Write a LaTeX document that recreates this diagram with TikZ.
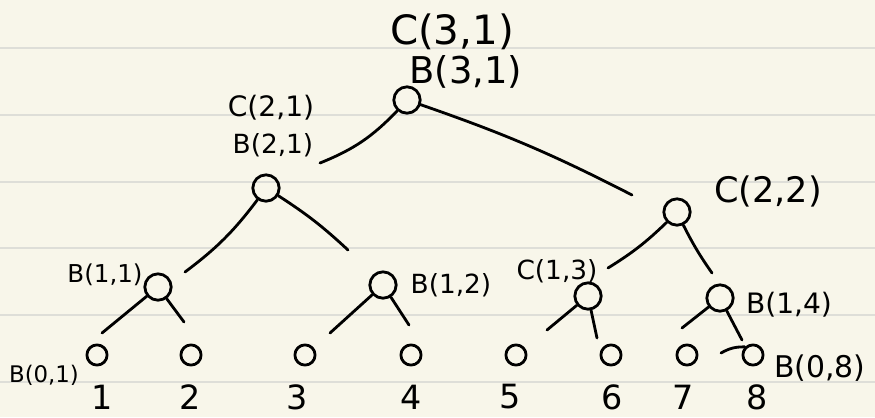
\documentclass[tikz,border=0pt]{standalone}
\usepackage{fontspec}
\setmainfont{DejaVu Sans}
\usetikzlibrary{shapes.geometric}

\definecolor{paper}{RGB}{248,246,234}
\definecolor{rule}{RGB}{222,222,216}

\tikzset{
  pen/.style={line width=1.6pt, line cap=round, line join=round, black},
  tnode/.style={pen, draw, circle, minimum size=15pt, inner sep=0pt},
  leaf/.style={pen, draw, ellipse, minimum width=11.5pt, minimum height=11.5pt, inner sep=0pt},
  lbl/.style={inner sep=0pt, font=\fontsize{#1}{#1}\selectfont},
  num/.style={inner sep=0pt, font=\fontsize{19}{19}\selectfont}
}

\begin{document}
\begin{tikzpicture}[x=0.02cm, y=-0.02cm]
    \useasboundingbox (0,0) rectangle (875,417);
    \fill[paper] (0,0) rectangle (875,417);

    % notebook rules
    \foreach \y in {48,115,182,248,315,382} {
        \draw[rule, line width=1.1pt] (0,\y) -- (875,\y);
    }

    % tree nodes
    \node[tnode] (r)   at (407,100) {};
    \node[tnode] (n21) at (266,188) {};
    \node[tnode] (n22) at (677,212) {};
    \node[tnode] (n11) at (158,287) {};
    \node[tnode] (n12) at (383,285) {};
    \node[tnode] (n13) at (588,296) {};
    \node[tnode] (n14) at (720,298) {};

    % loose ends of the branches
    \foreach \n/\x/\y in {rl/320/163, rr/632/195, al/185/272, ar/348/250,
                          bl/608/268, br/712/273, cl/102/333, cr/184/322,
                          dl/330/333, dr/409/325, el/547/330, er/597/338,
                          fl/682/328, fr/742/340} {
        \coordinate (\n) at (\x,\y);
    }

    \draw[pen] (r) to[bend left=12] (rl);
    \draw[pen] (r) to[bend left=4] (rr);
    \draw[pen] (n21) to[bend left=8] (al);
    \draw[pen] (n21) to[bend left=5] (ar);
    \draw[pen] (n22) to[bend left=6] (bl);
    \draw[pen] (n22) to[bend right=4] (br);
    \foreach \a/\b in {n11/cl, n11/cr, n12/dl, n12/dr, n13/el, n13/er, n14/fl, n14/fr} {
        \draw[pen] (\a) -- (\b);
    }

    % leaves and their indices
    \foreach \i/\x in {1/97, 2/191, 3/305, 4/411, 5/516, 6/611, 7/687, 8/753} {
        \node[leaf] (z\i) at (\x,355) {};
    }
    \coordinate (t8) at (721,353);
    \draw[pen] (z8.north west) to[bend right=15] (t8);

    \foreach \i/\x in {1/102, 2/190, 3/297, 4/411, 5/510, 6/612, 7/683, 8/757} {
        \node[num] (k\i) at (\x,397) {\i};
    }

    % labels
    \node[lbl=23] (c31) at (452,32)  {C(3,1)};
    \node[lbl=21] (b31) at (466,72)  {B(3,1)};
    \node[lbl=16] (c21) at (271,108) {C(2,1)};
    \node[lbl=15] (b21) at (273,145) {B(2,1)};
    \node[lbl=20] (c22) at (768,191) {C(2,2)};
    \node[lbl=14] (b11) at (105,275) {B(1,1)};
    \node[lbl=15] (b12) at (451,285) {B(1,2)};
    \node[lbl=15] (c13) at (557,271) {C(1,3)};
    \node[lbl=16] (b14) at (789,305) {B(1,4)};
    \node[lbl=13] (b01) at (44,375)  {B(0,1)};
    \node[lbl=17] (b08) at (820,368) {B(0,8)};
\end{tikzpicture}
\end{document}
